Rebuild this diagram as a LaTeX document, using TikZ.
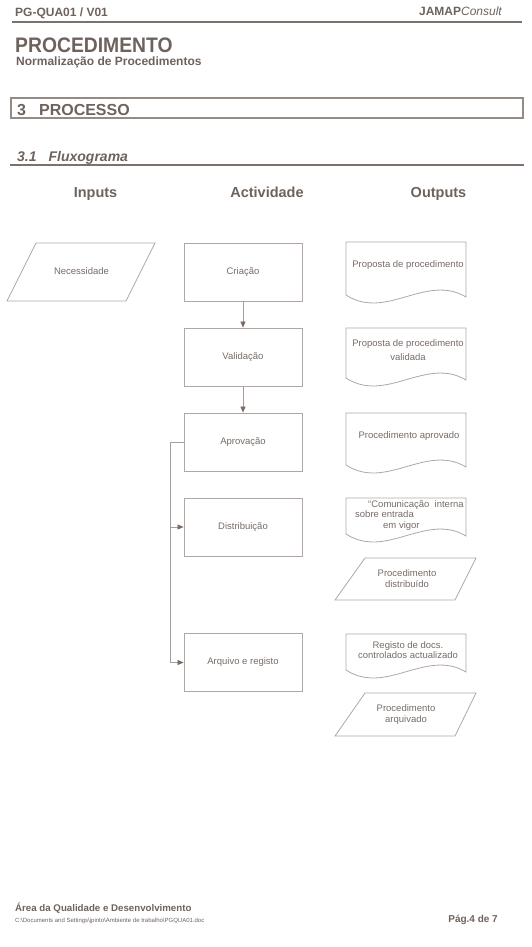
\documentclass[tikz,border=0pt]{standalone}
\usepackage{fontspec}
\usepackage{graphicx}
\setmainfont{Liberation Sans}
\usetikzlibrary{arrows.meta}
\definecolor{txt}{HTML}{6E625C}
\definecolor{stxt}{HTML}{766B65}
\definecolor{shp}{HTML}{B0A7A2}
\definecolor{lin}{HTML}{A89E98}
\definecolor{tip}{HTML}{7A6C64}
\definecolor{rul}{HTML}{7D716B}
\definecolor{boxc}{HTML}{958A84}
\begin{document}
\begin{tikzpicture}[x=1pt,y=-1pt,
  every node/.style={inner sep=0pt, text=txt},
  hbold/.style={font=\bfseries\fontsize{12}{14}\selectfont},
  colhead/.style={font=\bfseries\fontsize{14.5}{17}\selectfont, anchor=base},
  actbox/.style={draw=shp, line width=0.8pt, minimum width=118pt, minimum height=58pt,
                 font=\fontsize{9.5}{11.5}\selectfont, text=stxt},
  shapetext/.style={font=\fontsize{9.5}{11.5}\selectfont, text=stxt, align=center},
  outline/.style={draw=shp, line width=0.8pt},
  conn/.style={draw=lin, line width=0.7pt, -{Triangle[length=6pt,width=5pt,color=tip]}},
  rulebar/.style={draw=rul, line width=2pt},
  secbox/.style={draw=boxc, line width=1.1pt}
]
\useasboundingbox (0,0) rectangle (532,947);

% ---------- header ----------
\node[hbold, anchor=base west] (doc) at (15,17) {PG-QUA01 / V01};
\node[anchor=base east, font=\fontsize{12}{14}\selectfont] (firm) at (502,16) {\bfseries JAMAP\mdseries\itshape Consult};
\draw[rulebar] (12,22) -- (522,22);
\node[anchor=base west] (title) at (15,53) {\scalebox{0.92}[1]{\bfseries\fontsize{21}{24}\selectfont PROCEDIMENTO}};
\node[hbold, anchor=base west] (subtitle) at (16,66) {Normalização de Procedimentos};

% ---------- section ----------
\draw[secbox] (11,98) rectangle (523,118);
\node[anchor=base west, font=\bfseries\fontsize{16}{18}\selectfont] (sect) at (17,115.5) {3\hspace{13pt}PROCESSO};
\node[anchor=base west, font=\bfseries\itshape\fontsize{14}{16}\selectfont] (subsect) at (17,161) {3.1\hspace{12pt}Fluxograma};
\draw[rulebar] (10,164.5) -- (524,164.5);

% ---------- column headings ----------
\node[colhead] (hin)  at (95.5,197) {Inputs};
\node[colhead] (hact) at (267,197) {Actividade};
\node[colhead] (hout) at (438.5,197) {Outputs};

% ---------- input ----------
\draw[outline] (36,243) -- (155,243) -- (126,301) -- (7,301) -- cycle;
\node[shapetext] (nec) at (81.5,271) {Necessidade};

% ---------- activities ----------
\node[actbox] (cri) at (243,272)   {Criação};
\node[actbox] (val) at (243,357)   {Validação};
\node[actbox] (apr) at (243,442)   {Aprovação};
\node[actbox] (dis) at (243,527)   {Distribuição};
\node[actbox] (arq) at (243,662.5) {Arquivo e registo};

\draw[conn] (cri.south) -- (val.north);
\draw[conn] (val.south) -- (apr.north);
\path (apr.west) ++(-13,0) coordinate (fb);
\draw[conn] (apr.west) -- (fb) |- (arq.west);
\draw[conn] (fb |- dis.west) -- (dis.west);

% ---------- outputs ----------
\newcommand{\docshape}[3]{%
  \draw[outline] (#1,#3) -- (#1,#2) -- ({#1+120},#2) -- ({#1+120},{#3+2})
    .. controls ({#1+80},{#3-22}) and ({#1+40},{#3+26}) .. (#1,#3) -- cycle;}

\docshape{346}{242}{295}
\node[shapetext] (o1) at (408,265) {Proposta de procedimento};

\docshape{346}{328}{378}
\node[shapetext, font=\fontsize{9.5}{13.5}\selectfont] (o2) at (408,350) {Proposta de procedimento\\validada};

\docshape{346}{413}{465}
\node[shapetext] (o3) at (409,436) {Procedimento aprovado};

\docshape{346}{498}{534}
\node[shapetext, anchor=base west] (o4a) at (368,507) {“Comunicação\ \ interna};
\node[shapetext, anchor=base west] (o4b) at (355,517) {sobre entrada};
\node[shapetext, anchor=base west] (o4c) at (383,528.5) {em vigor};

\draw[outline] (365,558) -- (476,558) -- (455,600) -- (335,600) -- cycle;
\node[shapetext] (o5) at (407,578.5) {Procedimento\\distribuído};

\docshape{346}{634}{670}
\node[shapetext, font=\fontsize{9.5}{10.5}\selectfont] (o6) at (408,650) {Registo de docs.\\controlados actualizado};

\draw[outline] (365,693) -- (476,693) -- (455,736) -- (335,736) -- cycle;
\node[shapetext] (o7) at (406,714.5) {Procedimento\\arquivado};

% ---------- footer ----------
\node[anchor=base west, font=\bfseries\fontsize{9.7}{11}\selectfont] (area) at (15,911) {Área da Qualidade e Desenvolvimento};
\node[anchor=base west, font=\fontsize{6}{7}\selectfont] (path) at (15,922) {C:\textbackslash Documents and Settings\textbackslash jpinto\textbackslash Ambiente de trabalho\textbackslash PGQUA01.doc};
\node[anchor=base east, font=\bfseries\fontsize{10}{12}\selectfont] (page) at (498,922) {Pág.4 de 7};
\end{tikzpicture}
\end{document}
